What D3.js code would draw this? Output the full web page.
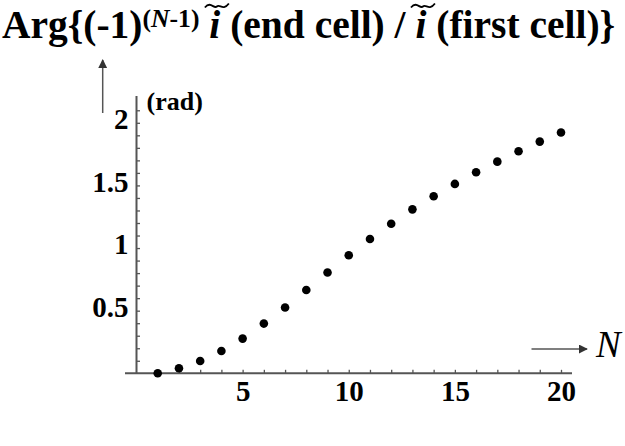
<!DOCTYPE html>
<html lang="en">
<head>
<meta charset="UTF-8">
<title>Arg chart</title>
<script src="https://d3js.org/d3.v7.min.js"></script>
<style>
  body { margin: 0; background: #fff; }
  svg { display: block; }
</style>
</head>
<body>
<svg id="chart" width="625" height="446"></svg>
<script>
// data
var cellCount = [1, 2, 3, 4, 5, 6, 7, 8, 9, 10, 11, 12, 13, 14, 15, 16, 17, 18, 19, 20];
var argRad = [0, 0.04, 0.098, 0.178, 0.277, 0.397, 0.525, 0.665, 0.805, 0.942,
              1.072, 1.194, 1.309, 1.413, 1.512, 1.605, 1.69, 1.773, 1.85, 1.922];
var xTickLabels = [5, 10, 15, 20];
var yTickLabels = [0.5, 1, 1.5, 2];

var serif = "'Liberation Serif', 'Times New Roman', serif";
var svg = d3.select("#chart")
    .attr("font-family", serif);

var x = d3.scaleLinear().domain([0, 20]).range([136.5, 561]);
var y = d3.scaleLinear().domain([0, 2]).range([373.3, 122.8]);

var axisColor = "#555";

// minor ticks
var xMinor = d3.range(1, 21);
var yMinor = d3.range(1, 22).map(function (d) { return d / 10; });

var gx = svg.append("g").attr("transform", "translate(0," + y(0) + ")");
gx.call(d3.axisBottom(x).tickValues(xMinor).tickSize(-3.5).tickFormat(""));
gx.select(".domain").remove();
gx.selectAll(".tick line").attr("stroke", axisColor).attr("stroke-width", 1.3);

var gx2 = svg.append("g").attr("transform", "translate(0," + y(0) + ")");
gx2.call(d3.axisBottom(x).tickValues(xTickLabels).tickSize(0).tickPadding(7).tickFormat(d3.format("d")));
gx2.attr("font-family", serif).attr("font-size", 29).attr("font-weight", "bold");
gx2.select(".domain").remove();
gx2.selectAll(".tick text")
    .attr("dy", "0.71em")
    .attr("fill", "#000");

var gy = svg.append("g").attr("transform", "translate(" + x(0) + ",0)");
gy.call(d3.axisLeft(y).tickValues(yMinor).tickSize(-3.5).tickFormat(""));
gy.select(".domain").remove();
gy.selectAll(".tick line").attr("stroke", axisColor).attr("stroke-width", 1.3);

var gy2 = svg.append("g").attr("transform", "translate(" + x(0) + ",0)");
gy2.call(d3.axisLeft(y).tickValues(yTickLabels).tickSize(0).tickPadding(8)
    .tickFormat(function (d) { return String(d); }));
gy2.attr("font-family", serif).attr("font-size", 29).attr("font-weight", "bold");
gy2.select(".domain").remove();
gy2.selectAll(".tick text")
    .attr("dy", "0.2em")
    .attr("fill", "#000");

// axis lines
svg.append("line")
    .attr("x1", 125).attr("x2", 572)
    .attr("y1", y(0)).attr("y2", y(0))
    .attr("stroke", axisColor).attr("stroke-width", 2);
svg.append("line")
    .attr("x1", x(0)).attr("x2", x(0))
    .attr("y1", y(0)).attr("y2", 96)
    .attr("stroke", axisColor).attr("stroke-width", 2);

// points
svg.selectAll("circle.pt")
    .data(cellCount)
    .enter()
    .append("circle")
    .attr("class", "pt")
    .attr("cx", function (d) { return x(d); })
    .attr("cy", function (d, i) { return y(argRad[i]); })
    .attr("r", 4.3)
    .attr("fill", "#000");

// arrows
var defs = svg.append("defs");
defs.append("marker")
    .attr("id", "head")
    .attr("viewBox", "0 0 10 10")
    .attr("refX", 9).attr("refY", 5)
    .attr("markerWidth", 9).attr("markerHeight", 9)
    .attr("markerUnits", "userSpaceOnUse")
    .attr("orient", "auto")
    .append("path")
    .attr("d", "M0,0 L10,5 L0,10 Z")
    .attr("fill", "#333");

svg.append("line")
    .attr("x1", 102.7).attr("x2", 102.7)
    .attr("y1", 113).attr("y2", 60)
    .attr("stroke", "#555").attr("stroke-width", 1.5)
    .attr("marker-end", "url(#head)");

svg.append("line")
    .attr("x1", 531.5).attr("x2", 587)
    .attr("y1", 349).attr("y2", 349)
    .attr("stroke", "#555").attr("stroke-width", 1.5)
    .attr("marker-end", "url(#head)");

svg.append("text")
    .attr("x", 596).attr("y", 357)
    .attr("font-style", "italic")
    .attr("font-size", 37)
    .text("N");

svg.append("text")
    .attr("x", 146.5).attr("y", 110)
    .attr("font-weight", "bold")
    .attr("font-size", 26)
    .text("(rad)");

// title
var title = svg.append("text")
    .attr("x", 2).attr("y", 38)
    .attr("font-weight", "bold")
    .attr("font-size", 34);
title.append("tspan").text("Arg{(-1)");
var sup = title.append("tspan").attr("dy", -11).attr("font-size", 22);
sup.append("tspan").text("(");
sup.append("tspan").attr("font-style", "italic").text("N");
sup.append("tspan").text("-1)");
title.append("tspan").attr("dy", 11).text(" ");
title.append("tspan").attr("class", "ti").attr("font-style", "italic").text("i");
title.append("tspan").text(" (end cell) / ");
title.append("tspan").attr("class", "ti").attr("font-style", "italic").text("i");
title.append("tspan").text(" (first cell)}");

// fit the title to the width it takes in the picture
var tw = title.node().getBBox().width;
var fs = 34 * 613 / tw;
title.attr("font-size", fs);
sup.attr("font-size", fs * 0.65);

// wide tildes above the italic i's
title.selectAll("tspan.ti").each(function () {
    var b = this.getBBox();
    var cx = b.x + b.width / 2 + 2;
    var w = 24, top = 3.5;
    svg.append("path")
        .attr("d", "M" + (cx - w / 2) + "," + (top + 4) +
            " C" + (cx - w / 4) + "," + (top - 3) + " " + (cx - w / 8) + "," + (top + 6) + " " + cx + "," + (top + 3) +
            " C" + (cx + w / 8) + "," + (top) + " " + (cx + w / 4) + "," + (top + 8) + " " + (cx + w / 2) + "," + (top))
        .attr("fill", "none")
        .attr("stroke", "#000")
        .attr("stroke-width", 1.8);
});
</script>
</body>
</html>
